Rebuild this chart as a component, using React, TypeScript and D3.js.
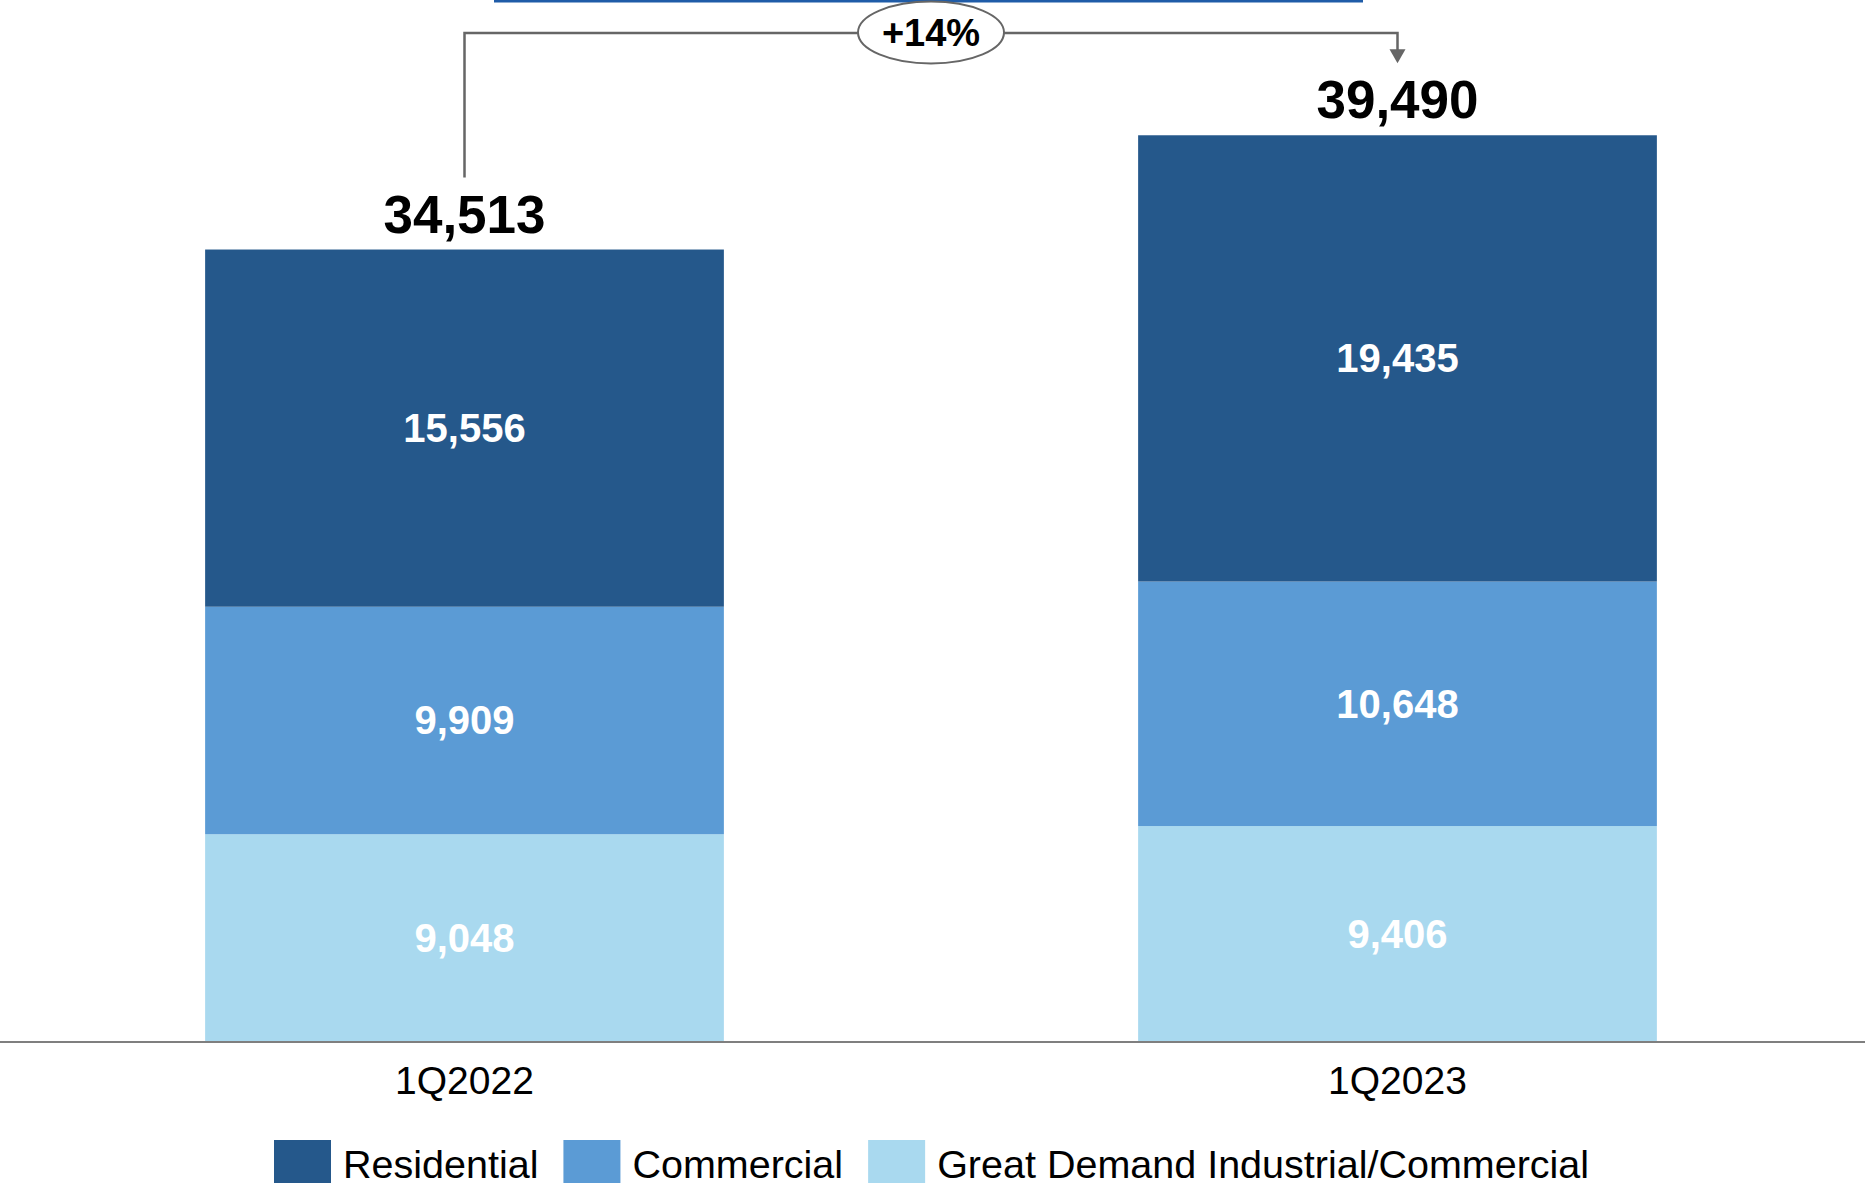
import { useEffect, useRef } from 'react';
import * as d3 from 'd3';

const categories = ['1Q2022', '1Q2023'];
const seriesNames = ['Great Demand Industrial/Commercial', 'Commercial', 'Residential'];
const greatDemand = [9048, 9406];
const commercial = [9909, 10648];
const residential = [15556, 19435];
const totals = [34513, 39490];
const growthLabel = '+14%';
const legendOrder = ['Residential', 'Commercial', 'Great Demand Industrial/Commercial'];

const colors: Record<string, string> = {
  'Residential': '#25588B',
  'Commercial': '#5B9BD5',
  'Great Demand Industrial/Commercial': '#A9D9EF',
};

const W = 1865;
const H = 1188;

export default function App() {
  const svgRef = useRef<SVGSVGElement>(null);

  useEffect(() => {
    if (!svgRef.current) return;
    const svg = d3.select(svgRef.current);
    svg.selectAll('*').remove();
    svg.attr('width', W).attr('height', H).attr('viewBox', `0 0 ${W} ${H}`)
      .style('font-family', '"Liberation Sans", Arial, sans-serif');

    const axisY = 1042;
    const x = d3.scaleBand<string>().domain(categories).range([-2, 1864]).paddingInner(0.444).paddingOuter(0.222);
    const y = d3.scaleLinear().domain([0, 45380]).range([axisY, 0]);

    const rows = categories.map((c, i) => ({
      cat: c,
      'Great Demand Industrial/Commercial': greatDemand[i],
      'Commercial': commercial[i],
      'Residential': residential[i],
    }));
    const stack = d3.stack<any>().keys(seriesNames)(rows);

    // title underline remnant
    svg.append('line')
      .attr('x1', 494).attr('x2', 1363).attr('y1', 1).attr('y2', 1)
      .attr('stroke', '#1F5CA8').attr('stroke-width', 3);

    const layer = svg.selectAll('g.layer').data(stack).join('g').attr('class', 'layer')
      .attr('fill', d => colors[d.key]);

    layer.selectAll('rect').data(d => d).join('rect')
      .attr('x', d => x(d.data.cat)!)
      .attr('width', x.bandwidth())
      .attr('y', d => y(d[1]))
      .attr('height', d => y(d[0]) - y(d[1]));

    layer.selectAll('text').data(d => d).join('text')
      .attr('x', d => x(d.data.cat)! + x.bandwidth() / 2)
      .attr('y', d => (y(d[0]) + y(d[1])) / 2)
      .attr('dy', '0.35em')
      .attr('text-anchor', 'middle')
      .attr('fill', '#FFFFFF')
      .attr('font-weight', 'bold')
      .attr('font-size', 40)
      .text(d => d3.format(',')(d[1] - d[0]));

    // axis baseline
    svg.append('line')
      .attr('x1', 0).attr('x2', W).attr('y1', axisY).attr('y2', axisY)
      .attr('stroke', '#7F7F7F').attr('stroke-width', 2);

    svg.selectAll('text.cat').data(categories).join('text').attr('class', 'cat')
      .attr('x', d => x(d)! + x.bandwidth() / 2)
      .attr('y', 1094)
      .attr('text-anchor', 'middle')
      .attr('font-size', 39)
      .attr('fill', '#000')
      .text(d => d);

    // totals
    svg.selectAll('text.total').data(totals).join('text').attr('class', 'total')
      .attr('x', (d, i) => x(categories[i])! + x.bandwidth() / 2)
      .attr('y', d => y(d) - 17)
      .attr('text-anchor', 'middle')
      .attr('font-size', 53)
      .attr('font-weight', 'bold')
      .attr('fill', '#000')
      .text(d => d3.format(',')(d));

    // growth bracket
    const cx0 = x(categories[0])! + x.bandwidth() / 2;
    const cx1 = x(categories[1])! + x.bandwidth() / 2;
    const lineY = 33;
    const tipY = y(totals[1]) - 72;
    svg.append('path')
      .attr('d', `M${cx0},${y(totals[0]) - 72} V${lineY} H${cx1} V${tipY - 13}`)
      .attr('fill', 'none').attr('stroke', '#666666').attr('stroke-width', 2.5);
    svg.append('path')
      .attr('d', `M${cx1 - 8},${tipY - 14} L${cx1 + 8},${tipY - 14} L${cx1},${tipY} Z`)
      .attr('fill', '#666666');
    const mid = (cx0 + cx1) / 2;
    svg.append('ellipse')
      .attr('cx', mid).attr('cy', 32.5).attr('rx', 73).attr('ry', 31)
      .attr('fill', '#FFFFFF').attr('stroke', '#666666').attr('stroke-width', 2);
    svg.append('text')
      .attr('x', mid).attr('y', 46)
      .attr('text-anchor', 'middle')
      .attr('font-size', 38).attr('font-weight', 'bold').attr('fill', '#000')
      .text(growthLabel);

    // legend
    const legend = svg.append('g');
    let lx = 274;
    legendOrder.forEach(name => {
      legend.append('rect')
        .attr('x', lx).attr('y', 1140).attr('width', 57).attr('height', 43)
        .attr('fill', colors[name]);
      const t = legend.append('text')
        .attr('x', lx + 69).attr('y', 1178)
        .attr('font-size', 39.5).attr('fill', '#000')
        .text(name);
      const w = (t.node() as SVGTextElement).getComputedTextLength();
      lx = lx + 69 + w + 25;
    });
  }, []);

  return (
    <svg ref={svgRef} style={{ position: 'absolute', left: 0, top: 0, background: '#fff' }} />
  );
}
